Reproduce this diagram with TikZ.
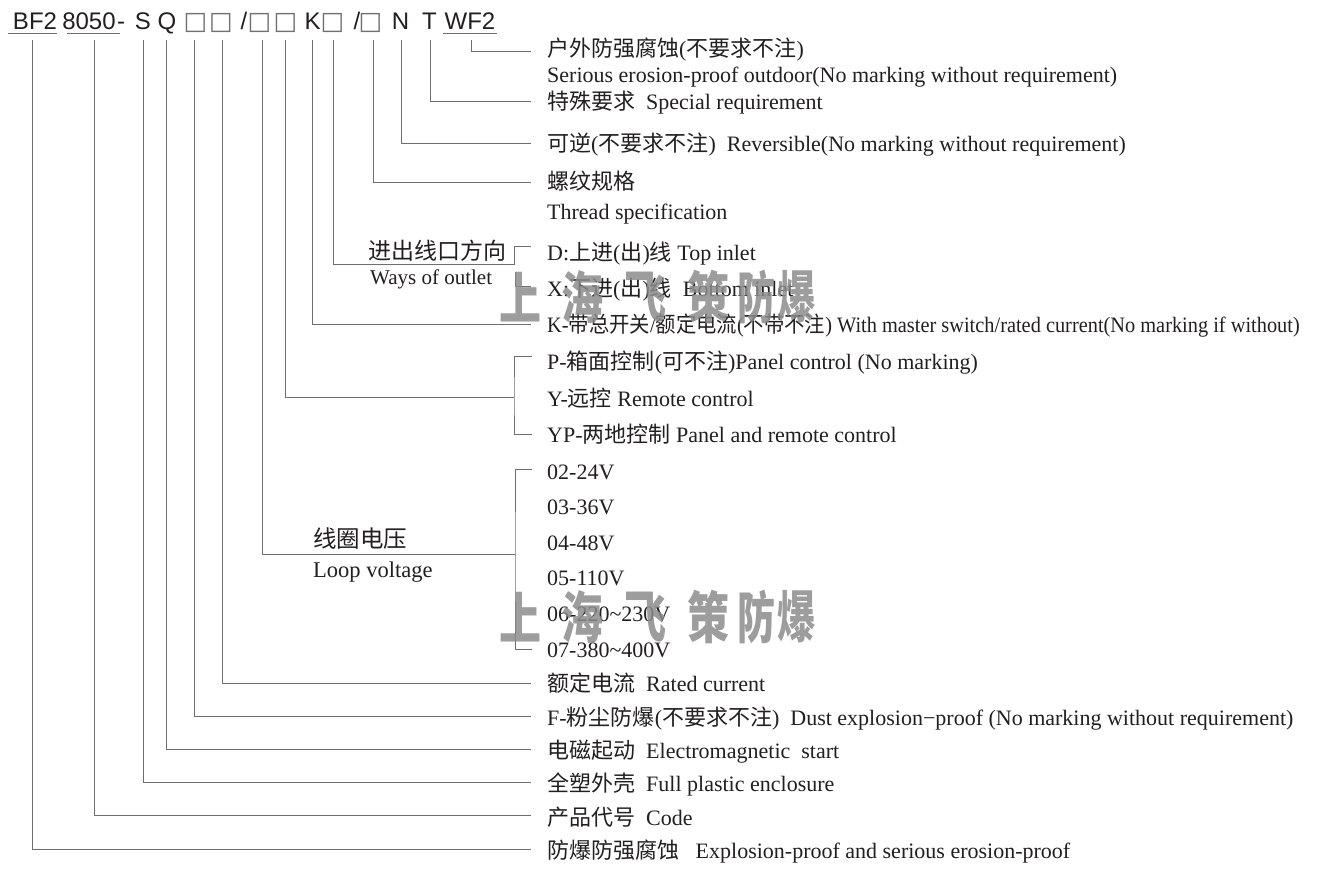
\documentclass[tikz,border=0pt]{standalone}
\usepackage{fontspec}
\usepackage{graphicx}
\setmainfont{Liberation Serif}
\newfontfamily\zhfont{Noto Sans CJK SC}
\newfontfamily\codefont{Liberation Sans}
\newfontfamily\symfont{DejaVu Sans}
\newcommand\zh[1]{{\zhfont#1}}
\definecolor{txt}{HTML}{231F20}
\definecolor{lncol}{HTML}{6E6E6E}
\definecolor{sqcol}{HTML}{707070}
\definecolor{wmcol}{HTML}{8C8C8C}
\tikzset{
  ln/.style={draw=lncol, line width=0.9pt},
  lbl/.style={anchor=base west, inner sep=0pt, font=\fontsize{22}{22}\selectfont, text=txt},
  code/.style={anchor=base, inner sep=0pt, font=\codefont\fontsize{24}{24}\selectfont, text=txt},
  sqbox/.style={anchor=base, inner sep=0pt, font=\symfont\fontsize{25}{25}\selectfont, text=sqcol},
  wm/.style={inner sep=0pt, font=\zhfont\bfseries\fontsize{56}{56}\selectfont, text=wmcol, opacity=0.85}
}
\begin{document}
\begin{tikzpicture}[x=1pt,y=-1pt]
\useasboundingbox[fill=white] (0,0) rectangle (1321,872);
% code line
\node[code] (cBF) at (35,29.3) {BF2};
\node[code] (c8050) at (89,29.3) {8050};
\node[code] (cdash) at (121,29.3) {-};
\node[code] (cS) at (143,29.3) {S};
\node[code] (cQ) at (167,29.3) {Q};
\node[sqbox] (b1) at (195.5,29.3) {□};
\node[sqbox] (b2) at (221,29.3) {□};
\node[code] (sl1) at (244,29.3) {/};
\node[sqbox] (b3) at (259.5,29.3) {□};
\node[sqbox] (b4) at (285.5,29.3) {□};
\node[code] (cK) at (312.5,29.3) {K};
\node[sqbox] (b5) at (332.5,29.3) {□};
\node[code] (sl2) at (357,29.3) {/};
\node[sqbox] (b6) at (370.5,29.3) {□};
\node[code] (cN) at (400.5,29.3) {N};
\node[code] (cT) at (429.5,29.3) {T};
\node[code] (cWF) at (470,29.3) {WF2};
% underlines
\draw[ln] (8,33.3) -- (57,33.3);
\draw[ln] (67,33.3) -- (120,33.3);
\draw[ln] (443,33.3) -- (497,33.3);
% end coordinates
\coordinate (eWF) at (531,51);
\coordinate (eT) at (531,101);
\coordinate (eN) at (531,143);
\coordinate (e6) at (531,182);
\coordinate (j5) at (514,264);
\coordinate (kD) at (531,246);
\coordinate (kX0) at (515,272);
\coordinate (kX) at (531,286);
\coordinate (eK) at (531,324);
\coordinate (j4) at (514,397);
\coordinate (kP) at (532,356);
\coordinate (kYP) at (532,434);
\coordinate (j3) at (515,554);
\coordinate (k02) at (532,469);
\coordinate (k07) at (532,649);
\coordinate (e2) at (531,683);
\coordinate (e1) at (531,716);
\coordinate (eQ) at (531,749);
\coordinate (eS) at (531,782);
\coordinate (e8050) at (531,815);
\coordinate (eBF) at (531,849);
% connectors
\draw[ln] (cWF.base) ++(1.5,10.7) |- (eWF);
\draw[ln] (cT.base) ++(0.5,10.7) |- (eT);
\draw[ln] (cN.base) ++(0.5,10.7) |- (eN);
\draw[ln] (b6.base) ++(2.5,10.7) |- (e6);
\draw[ln] (b5.base) ++(0.5,10.7) |- (j5) |- (kD);
\draw[ln] (kX0) |- (kX);
\draw[ln] (cK.base) ++(-0.5,10.7) |- (eK);
\draw[ln] (b4.base) ++(-0.5,10.7) |- (j4);
\draw[ln] (kP) -| (j4) |- (kYP);
\draw[ln] (b3.base) ++(2.5,10.7) |- (j3);
\draw[ln] (k02) -| (j3) |- (k07);
\draw[ln] (b2.base) ++(1,10.7) |- (e2);
\draw[ln] (b1.base) ++(-1,10.7) |- (e1);
\draw[ln] (cQ.base) ++(-1,10.7) |- (eQ);
\draw[ln] (cS.base) ++(0,10.7) |- (eS);
\draw[ln] (c8050.base) ++(5,10.7) |- (e8050);
\draw[ln] (cBF.base) ++(-2.5,10.7) |- (eBF);
% labels
\node[lbl] (lWF) at (547,57) {\zh{户外防强腐蚀}(\zh{不要求不注})};
\node[lbl] (lWFe) at (547,83) {Serious erosion-proof outdoor(No marking without requirement)};
\node[lbl] (lT) at (547,110) {\zh{特殊要求}\ \ Special requirement};
\node[lbl] (lN) at (547,151) {\zh{可逆}(\zh{不要求不注})\ \ Reversible(No marking without requirement)};
\node[lbl] (l6) at (547,189) {\zh{螺纹规格}};
\node[lbl] (l6e) at (547,219) {Thread specification};
\node[lbl, font=\fontsize{23}{23}\selectfont] (l5) at (368,259) {\zh{进出线口方向}};
\node[lbl, font=\fontsize{21}{21}\selectfont] (l5e) at (370,284) {Ways of outlet};
\node[lbl] (lD) at (547,260) {D:\zh{上进}(\zh{出})\zh{线} Top inlet};
\node[lbl] (lX) at (547,296) {X:\zh{下进}(\zh{出})\zh{线}\ \ Bottom inlet};
\node[lbl] (lK) at (547,332) {\scalebox{0.925}[1]{K-\zh{带总开关}/\zh{额定电流}(\zh{不带不注}) With master switch/rated current(No marking if without)}};
\node[lbl] (lP) at (547,369) {P-\zh{箱面控制}(\zh{可不注})Panel control (No marking)};
\node[lbl] (lY) at (547,406) {Y-\zh{远控} Remote control};
\node[lbl] (lYP) at (547,442) {YP-\zh{两地控制} Panel and remote control};
\node[lbl, font=\fontsize{23.5}{23.5}\selectfont] (l3) at (313,547) {\zh{线圈电压}};
\node[lbl, font=\fontsize{22.5}{22.5}\selectfont] (l3e) at (313,577) {Loop voltage};
\node[lbl] (v02) at (547,479) {02-24V};
\node[lbl] (v03) at (547,514) {03-36V};
\node[lbl] (v04) at (547,550) {04-48V};
\node[lbl] (v05) at (547,585) {05-110V};
\node[lbl] (v06) at (547,621) {06-220\textasciitilde 230V};
\node[lbl] (v07) at (547,657) {07-380\textasciitilde 400V};
\node[lbl] (l2) at (547,691) {\zh{额定电流}\ \ Rated current};
\node[lbl] (l1) at (547,725) {F-\zh{粉尘防爆}(\zh{不要求不注})\ \ Dust explosion−proof (No marking without requirement)};
\node[lbl] (lQ) at (547,758) {\zh{电磁起动}\ \ Electromagnetic\ \ start};
\node[lbl] (lS) at (547,791) {\zh{全塑外壳}\ \ Full plastic enclosure};
\node[lbl] (l8050) at (547,825) {\zh{产品代号}\ \ Code};
\node[lbl] (lBF) at (547,858) {\zh{防爆防强腐蚀}\ \ \ Explosion-proof and serious erosion-proof};
% watermark
\foreach \yy/\nm in {297/a,617/b}{
  \node[wm] (wm\nm1) at (520,\yy) {\scalebox{0.75}[1]{上}};
  \node[wm] (wm\nm2) at (582,\yy) {\scalebox{0.75}[1]{海}};
  \node[wm] (wm\nm3) at (645,\yy) {\scalebox{0.75}[1]{飞}};
  \node[wm] (wm\nm4) at (708,\yy) {\scalebox{0.75}[1]{策}};
  \node[wm] (wm\nm5) at (757,\yy) {\scalebox{0.68}[1]{防}};
  \node[wm] (wm\nm6) at (797,\yy) {\scalebox{0.68}[1]{爆}};
}
\end{tikzpicture}
\end{document}
